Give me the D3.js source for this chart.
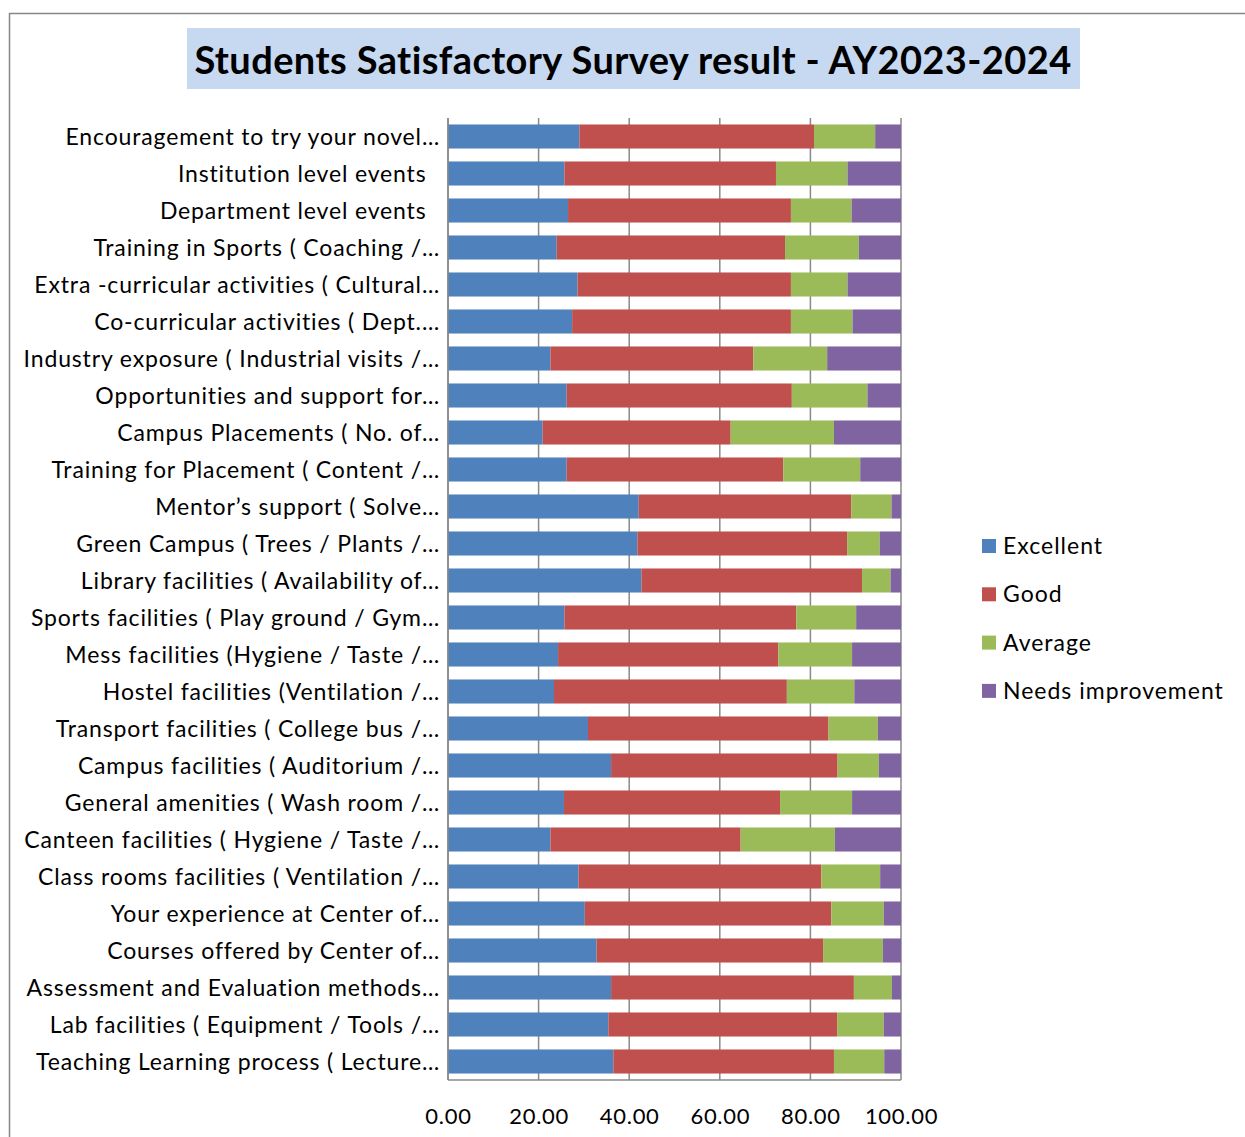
<!DOCTYPE html>
<html>
<head>
<meta charset="utf-8">
<script src="https://cdn.jsdelivr.net/npm/d3@7"></script>
<style>
  body { margin: 0; background: #fff; }
  text { font-family: Lato, "Open Sans", sans-serif; fill: #000; }
</style>
</head>
<body>
<div id="chart"></div>
<script>
// categories, top to bottom as in the picture
var categories = [
  "Encouragement to try your novel\u2026",
  "Institution level events  ",
  "Department level events  ",
  "Training in Sports ( Coaching /\u2026",
  "Extra -curricular activities ( Cultural\u2026",
  "Co-curricular activities ( Dept.\u2026",
  "Industry exposure ( Industrial visits /\u2026",
  "Opportunities and support for\u2026",
  "Campus Placements ( No. of\u2026",
  "Training for Placement ( Content /\u2026",
  "Mentor\u2019s support ( Solve\u2026",
  "Green Campus ( Trees / Plants /\u2026",
  "Library facilities ( Availability of\u2026",
  "Sports facilities ( Play ground / Gym\u2026",
  "Mess facilities (Hygiene / Taste /\u2026",
  "Hostel facilities (Ventilation /\u2026",
  "Transport facilities ( College bus /\u2026",
  "Campus facilities ( Auditorium /\u2026",
  "General amenities ( Wash room /\u2026",
  "Canteen facilities ( Hygiene / Taste /\u2026",
  "Class rooms facilities ( Ventilation /\u2026",
  "Your experience at Center of\u2026",
  "Courses offered by Center of\u2026",
  "Assessment and Evaluation methods\u2026",
  "Lab facilities ( Equipment / Tools /\u2026",
  "Teaching Learning process ( Lecture\u2026"
];

var excellent = [29.0, 25.7, 26.5, 24.0, 28.6, 27.4, 22.6, 26.2, 20.9, 26.2, 42.1, 41.8, 42.7,
                 25.7, 24.3, 23.4, 30.9, 36.0, 25.6, 22.6, 28.8, 30.2, 32.8, 36.0, 35.4, 36.5];
var good      = [51.8, 46.7, 49.2, 50.4, 47.1, 48.3, 44.8, 49.7, 41.5, 47.8, 46.9, 46.3, 48.7,
                 51.2, 48.6, 51.4, 53.1, 50.0, 47.7, 42.0, 53.6, 54.4, 50.0, 53.6, 50.5, 48.7];
var average   = [13.5, 15.8, 13.4, 16.3, 12.5, 13.6, 16.3, 16.7, 22.8, 17.0, 8.9, 7.2, 6.3,
                 13.2, 16.3, 14.9, 10.9, 9.1, 15.9, 20.8, 13.0, 11.6, 13.2, 8.4, 10.3, 11.1];
var needsImpr = [5.7, 11.8, 10.9, 9.3, 11.8, 10.7, 16.3, 7.4, 14.8, 9.0, 2.1, 4.7, 2.3,
                 9.9, 10.8, 10.3, 5.1, 4.9, 10.8, 14.6, 4.6, 3.8, 4.0, 2.0, 3.8, 3.7];

var seriesNames = ["Excellent", "Good", "Average", "Needs improvement"];
var xTicks = [0, 20, 40, 60, 80, 100];
var titleText = "Students Satisfactory Survey result - AY2023-2024";

var colors = ["#4f81bd", "#c0504d", "#9bbb59", "#8064a2"];

var width = 1245, height = 1137;
var margin = {top: 118, left: 448, right: 344, bottom: 57};

var svg = d3.select("#chart").append("svg")
  .attr("width", width)
  .attr("height", height);

// chart area border (only top and left are visible in the frame)
svg.append("path")
  .attr("d", "M9.5," + height + "V13.5H" + width)
  .attr("fill", "none")
  .attr("stroke", "#878787")
  .attr("stroke-width", 1.5);

// title with its shaded box
svg.append("rect")
  .attr("x", 187).attr("y", 28)
  .attr("width", 893).attr("height", 61)
  .attr("fill", "#c6d9f1");
svg.append("text")
  .attr("x", 633).attr("y", 74)
  .attr("text-anchor", "middle")
  .attr("font-size", 38)
  .attr("font-weight", "bold")
  .attr("letter-spacing", 0.4)
  .text(titleText);

// stacked rows built from the named arrays
var rows = categories.map(function(c, i) {
  return {cat: c, Excellent: excellent[i], Good: good[i], Average: average[i], "Needs improvement": needsImpr[i]};
});
var stacked = d3.stack().keys(seriesNames)(rows);

var x = d3.scaleLinear()
  .domain([0, 100])
  .range([margin.left, width - margin.right]);
var y = d3.scaleBand()
  .domain(categories)
  .range([margin.top, height - margin.bottom])
  .paddingInner(0.35)
  .paddingOuter(0.175);

var g = svg.append("g");

// vertical gridlines
g.selectAll(".grid")
  .data(xTicks)
  .enter().append("line")
    .attr("x1", function(d) { return x(d); })
    .attr("x2", function(d) { return x(d); })
    .attr("y1", margin.top)
    .attr("y2", height - margin.bottom)
    .attr("stroke", "#898989")
    .attr("stroke-width", 1.5);

// bottom axis line
g.append("line")
  .attr("x1", x(0)).attr("x2", x(100))
  .attr("y1", height - margin.bottom).attr("y2", height - margin.bottom)
  .attr("stroke", "#898989")
  .attr("stroke-width", 1.5);

// bars
g.selectAll(".series")
  .data(stacked)
  .enter().append("g")
    .attr("fill", function(d, i) { return colors[i]; })
  .selectAll("rect")
  .data(function(d) { return d; })
  .enter().append("rect")
    .attr("x", function(d) { return x(d[0]); })
    .attr("width", function(d) { return x(d[1]) - x(d[0]); })
    .attr("y", function(d) { return y(d.data.cat); })
    .attr("height", y.bandwidth());

// left axis line on top of bars
g.append("line")
  .attr("x1", x(0)).attr("x2", x(0))
  .attr("y1", margin.top).attr("y2", height - margin.bottom)
  .attr("stroke", "#898989")
  .attr("stroke-width", 1.5);

// category labels
var yAxis = svg.append("g")
  .attr("transform", "translate(" + (x(0) - 8) + ",0)")
  .call(d3.axisLeft(y).tickSize(0).tickPadding(0));
yAxis.select(".domain").remove();
yAxis.selectAll("text")
  .attr("font-size", 23)
  .attr("font-family", "Lato, sans-serif")
  .attr("fill", "#000")
  .attr("letter-spacing", 0.85)
  .style("white-space", "pre")
  .attr("dy", "0.35em");

// x tick labels
var xAxis = svg.append("g")
  .attr("transform", "translate(0," + (height - margin.bottom) + ")")
  .call(d3.axisBottom(x).tickValues(xTicks).tickFormat(d3.format(".2f")).tickSize(0).tickPadding(28));
xAxis.select(".domain").remove();
xAxis.selectAll("text")
  .attr("font-size", 22)
  .attr("font-family", "Lato, sans-serif")
  .attr("letter-spacing", 0.7)
  .attr("fill", "#000");

// legend
var legend = svg.append("g").attr("transform", "translate(982,546)");
var item = legend.selectAll("g")
  .data(seriesNames)
  .enter().append("g")
    .attr("transform", function(d, i) { return "translate(0," + (i * 48.3) + ")"; });
item.append("rect")
  .attr("x", 0).attr("y", -7)
  .attr("width", 14).attr("height", 14)
  .attr("fill", function(d, i) { return colors[i]; });
item.append("text")
  .attr("x", 21).attr("y", 0)
  .attr("dy", "0.35em")
  .attr("font-size", 23)
  .attr("letter-spacing", 1.0)
  .text(function(d) { return d; });
</script>
</body>
</html>
